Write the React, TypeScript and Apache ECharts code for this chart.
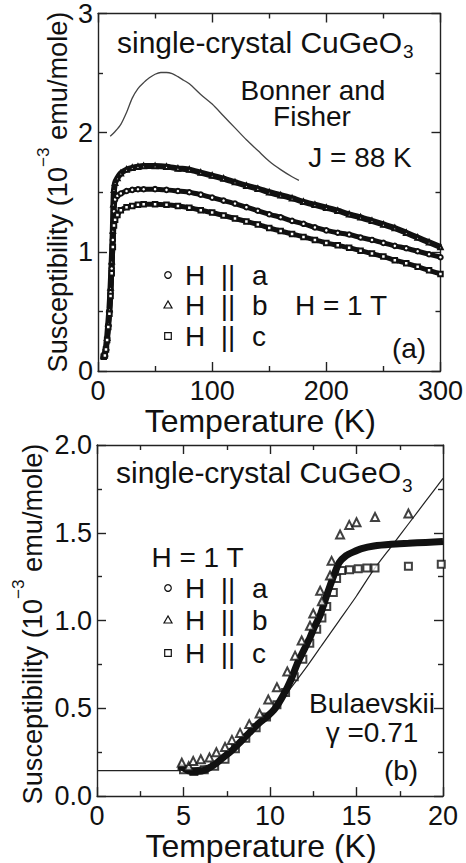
import React, { useEffect, useRef } from "react";
import * as echarts from "echarts";

const FONT = "'Liberation Sans', Arial, Helvetica, sans-serif";
const INK = "#111";

// ---------- Panel (a): 0-300 K ----------
const xTicksA = { min: 0, max: 300, interval: 100 };
const yTicksA = { min: 0, max: 3, interval: 1 };

// Bonner-Fisher curve, J = 88 K  [T (K), chi (1e-3 emu/mole)]
const bonnerFisher: [number, number][] = [
  [10.7, 1.97], [15, 2.01], [20, 2.07], [25, 2.17], [30, 2.29], [35, 2.37], [40, 2.42],
  [45, 2.46], [50, 2.49], [55, 2.505], [60, 2.505], [65, 2.495], [70, 2.47], [75, 2.44],
  [80, 2.41], [90, 2.32], [100, 2.24], [110, 2.14], [120, 2.04], [130, 1.94], [140, 1.85],
  [150, 1.76], [160, 1.69], [170, 1.63], [176, 1.6],
];

// H || a (circles)
const wideA: [number, number][] = [
  [5, 0.12], [6, 0.13], [7, 0.18], [8, 0.27], [9, 0.38], [10, 0.5], [11, 0.66], [12, 0.86],
  [13, 1.1], [14, 1.34], [15, 1.44], [17, 1.47], [20, 1.49], [25, 1.51], [30, 1.52],
  [35, 1.525], [40, 1.525], [50, 1.526], [60, 1.52], [70, 1.51], [80, 1.5], [90, 1.48],
  [100, 1.455], [110, 1.43], [120, 1.405], [130, 1.375], [140, 1.345], [150, 1.315],
  [160, 1.29], [170, 1.26], [180, 1.235], [190, 1.205], [200, 1.18], [210, 1.16],
  [220, 1.145], [230, 1.12], [240, 1.1], [250, 1.075], [260, 1.05], [270, 1.03],
  [280, 1.005], [290, 0.98], [300, 0.955],
];

// H || b (triangles)
const wideB: [number, number][] = [
  [5, 0.13], [6, 0.15], [7, 0.2], [8, 0.28], [9, 0.4], [10, 0.52], [11, 0.7], [12, 0.92],
  [13, 1.18], [13.5, 1.4], [14, 1.52], [15, 1.58], [17, 1.62], [20, 1.66], [25, 1.69],
  [30, 1.705], [35, 1.715], [40, 1.72], [50, 1.72], [60, 1.715], [70, 1.7], [80, 1.69],
  [90, 1.665], [100, 1.64], [110, 1.615], [120, 1.585], [130, 1.555], [140, 1.53],
  [150, 1.5], [160, 1.475], [170, 1.45], [180, 1.42], [190, 1.395], [200, 1.37],
  [210, 1.345], [220, 1.315], [230, 1.29], [240, 1.26], [250, 1.23], [260, 1.2],
  [270, 1.16], [280, 1.12], [290, 1.08], [300, 1.04],
];

// H || c (squares)
const wideC: [number, number][] = [
  [5, 0.12], [6, 0.13], [7, 0.18], [8, 0.26], [9, 0.37], [10, 0.48], [11, 0.63], [12, 0.82],
  [13, 1.04], [14, 1.22], [15, 1.27], [17, 1.31], [20, 1.35], [25, 1.375], [30, 1.385],
  [35, 1.395], [40, 1.4], [50, 1.4], [60, 1.395], [70, 1.385], [80, 1.37], [90, 1.35],
  [100, 1.33], [110, 1.305], [120, 1.28], [130, 1.255], [140, 1.23], [150, 1.2],
  [160, 1.175], [170, 1.15], [180, 1.125], [190, 1.1], [200, 1.075], [210, 1.055],
  [220, 1.035], [230, 1.01], [240, 0.985], [250, 0.96], [260, 0.93], [270, 0.905],
  [280, 0.875], [290, 0.845], [300, 0.815],
];

// ---------- Panel (b): 0-20 K ----------
const xTicksB = { min: 0, max: 20, interval: 5 };
const yTicksB = { min: 0, max: 2, interval: 0.5 };

// Bulaevskii fit, gamma = 0.71
const bulaevskii: [number, number][] = [
  [0, 0.145], [4.5, 0.145], [5, 0.148], [5.5, 0.155], [6, 0.165], [6.5, 0.18], [7, 0.2],
  [7.5, 0.23], [8, 0.265], [8.5, 0.31], [9, 0.36], [9.5, 0.41], [10, 0.47], [11, 0.59],
  [12, 0.72], [13, 0.86], [14, 1.0], [15, 1.14], [16, 1.29], [17, 1.42], [18, 1.55],
  [19, 1.68], [20, 1.81],
];

// H || a (dense circles)
const lowA: [number, number][] = [
  [4.7, 0.17], [5.0, 0.16], [5.4, 0.14], [5.8, 0.14], [6.3, 0.15], [6.8, 0.18], [7.3, 0.22],
  [7.8, 0.26], [8.3, 0.31], [8.8, 0.36], [9.3, 0.41], [9.8, 0.45], [10.3, 0.5], [10.8, 0.58],
  [11.2, 0.66], [11.6, 0.76], [12.0, 0.84], [12.3, 0.9], [12.6, 0.97], [12.9, 1.03],
  [13.3, 1.15], [13.7, 1.26], [14.0, 1.33], [14.4, 1.37], [14.8, 1.39], [15.3, 1.41],
  [16.0, 1.425], [17.0, 1.435], [18.0, 1.44], [19.0, 1.445], [20.0, 1.45],
];

// H || b (triangles)
const lowB: [number, number][] = [
  [4.9, 0.19], [5.3, 0.17], [5.56, 0.2], [6.0, 0.21], [6.5, 0.22], [6.9, 0.25], [7.4, 0.28],
  [7.8, 0.32], [8.27, 0.36], [8.8, 0.41], [9.4, 0.47], [9.9, 0.55], [10.4, 0.62],
  [11.0, 0.71], [11.45, 0.8], [11.83, 0.886], [12.31, 0.97], [12.5, 1.04], [12.9, 1.17],
  [13.0, 1.11], [13.47, 1.257], [13.56, 1.34], [14.05, 1.49], [14.58, 1.545], [15.0, 1.56],
  [16.07, 1.59], [18.0, 1.61],
];

// H || c (squares)
const lowC: [number, number][] = [
  [5.0, 0.15], [5.6, 0.14], [6.2, 0.15], [6.8, 0.17], [7.4, 0.21], [8.0, 0.27], [8.6, 0.33],
  [9.2, 0.39], [9.8, 0.45], [10.4, 0.52], [10.9, 0.59], [11.4, 0.68], [11.9, 0.78],
  [12.3, 0.87], [12.7, 0.95], [13.0, 1.015], [13.28, 1.08], [13.66, 1.16], [13.85, 1.24],
  [14.14, 1.285], [14.6, 1.29], [15.1, 1.295], [15.6, 1.3], [16.07, 1.3], [18.0, 1.31],
  [19.9, 1.32],
];

const legendRows = [
  { key: "a", symbol: "circle" },
  { key: "b", symbol: "triangle" },
  { key: "c", symbol: "square" },
];

const yTitleMain = "Susceptibility (10";
const yTitleSup = "−3";
const yTitleEnd = " emu/mole)";
const sampleName = "single-crystal CuGeO";
const sampleSub = "3";

const axisLineStyle = { color: "#222", width: 1.4 };

let measureCtx: CanvasRenderingContext2D | null = null;
function measure(text: string, size: number) {
  if (!measureCtx) measureCtx = document.createElement("canvas").getContext("2d");
  if (!measureCtx) return text.length * size * 0.55;
  measureCtx.font = `${size}px ${FONT}`;
  return measureCtx.measureText(text).width;
}

function xAxisCfg(gridIndex: number, t: { min: number; max: number; interval: number }, main: boolean, nameGap: number) {
  return {
    type: "value",
    gridIndex,
    position: main ? "bottom" : "top",
    ...t,
    name: main ? "Temperature (K)" : "",
    nameLocation: "middle",
    nameGap,
    nameTextStyle: { fontSize: 32, fontFamily: FONT, color: INK, padding: [0, 18, 0, 0] },
    axisLine: { show: true, onZero: false, lineStyle: axisLineStyle },
    axisTick: { show: true, inside: true, length: 9, lineStyle: axisLineStyle },
    minorTick: { show: true, splitNumber: 2, length: 5, lineStyle: axisLineStyle },
    splitLine: { show: false },
    minorSplitLine: { show: false },
    axisLabel: { show: main, fontSize: 27, fontFamily: FONT, color: INK, margin: 6 },
  };
}

function yAxisCfg(gridIndex: number, t: { min: number; max: number; interval: number }, main: boolean, digits: number) {
  return {
    type: "value",
    gridIndex,
    position: main ? "left" : "right",
    ...t,
    axisLine: { show: true, onZero: false, lineStyle: axisLineStyle },
    axisTick: { show: true, inside: true, length: 9, lineStyle: axisLineStyle },
    minorTick: { show: true, splitNumber: 2, length: 5, lineStyle: axisLineStyle },
    splitLine: { show: false },
    minorSplitLine: { show: false },
    axisLabel: {
      show: main,
      fontSize: 27,
      fontFamily: FONT,
      color: INK,
      margin: 5,
      formatter: (v: number) => v.toFixed(digits),
    },
  };
}

function txt(text: string, x: number, y: number, size = 28, align = "center") {
  return {
    type: "text",
    x,
    y,
    style: { text, fill: INK, fontSize: size, fontFamily: FONT, align, verticalAlign: "middle" },
  };
}

// Rotated y-axis title with a superscript exponent
function yTitle(cx: number, cy: number, targetLength: number) {
  const base = 27;
  const len0 = measure(yTitleMain, base) + measure(yTitleSup, base * 0.63) + measure(yTitleEnd, base);
  const size = Math.max(24, Math.min(31, (base * targetLength) / len0));
  const sup = size * 0.63;
  const w1 = measure(yTitleMain, size);
  const ws = measure(yTitleSup, sup);
  const w2 = measure(yTitleEnd, size);
  const x0 = -(w1 + ws + w2) / 2;
  return {
    type: "group",
    x: cx,
    y: cy,
    rotation: Math.PI / 2,
    children: [
      txt(yTitleMain, x0, 0, size, "left"),
      txt(yTitleSup, x0 + w1, -size * 0.5, sup, "left"),
      txt(yTitleEnd, x0 + w1 + ws, 0, size, "left"),
    ],
  };
}

function sampleTitle(left: number, y: number, subDy: number) {
  const size = 30;
  const w = measure(sampleName, size);
  return [txt(sampleName, left, y, size, "left"), txt(sampleSub, left + w + 1, y + subDy, 19, "left")];
}

function marker(kind: string, cx: number, cy: number) {
  const style = { fill: "#fff", stroke: INK, lineWidth: 1.2 };
  if (kind === "circle") return { type: "circle", shape: { cx, cy, r: 3.3 }, style };
  if (kind === "triangle")
    return { type: "polygon", shape: { points: [[cx, cy - 4], [cx - 4, cy + 3], [cx + 4, cy + 3]] }, style };
  return { type: "rect", shape: { x: cx - 3.3, y: cy - 3.3, width: 6.6, height: 6.6 }, style };
}

function legend(rowsY: number[]) {
  const out: any[] = [];
  legendRows.forEach((r, i) => {
    const y = rowsY[i];
    out.push(marker(r.symbol, 168, y));
    out.push(txt("H", 185, y, 28, "left"));
    out.push(txt("||", 228, y, 28, "center"));
    out.push(txt(r.key, 252, y, 28, "left"));
  });
  return out;
}

function buildOption() {
  const bandLine = (data: [number, number][], symbol: string, xi: number, yi: number, width: number, symbolSize: number) => ({
    type: "line",
    xAxisIndex: xi,
    yAxisIndex: yi,
    data,
    symbol,
    symbolSize,
    showSymbol: symbolSize > 0,
    lineStyle: { color: INK, width },
    itemStyle: { color: INK, borderColor: INK, borderWidth: 1.5 },
    smooth: 0.2,
    z: 3,
  });

  return {
    animation: false,
    backgroundColor: "#fff",
    grid: [
      { left: 98, top: 12, width: 345, height: 359 },
      { left: 97, top: 445, width: 346, height: 359 },
    ],
    xAxis: [
      xAxisCfg(0, xTicksA, true, 19),
      xAxisCfg(0, xTicksA, false, 0),
      xAxisCfg(1, xTicksB, true, 12),
      xAxisCfg(1, xTicksB, false, 0),
    ],
    yAxis: [
      yAxisCfg(0, yTicksA, true, 0),
      yAxisCfg(0, yTicksA, false, 0),
      yAxisCfg(1, yTicksB, true, 1),
      yAxisCfg(1, yTicksB, false, 1),
    ],
    series: [
      {
        type: "line",
        name: "Bonner and Fisher",
        xAxisIndex: 0,
        yAxisIndex: 0,
        data: bonnerFisher,
        showSymbol: false,
        smooth: 0.3,
        lineStyle: { color: "#444", width: 1.3 },
        z: 2,
      },
      { name: "H || a", ...bandLine(wideA, "emptyCircle", 0, 0, 5, 4.5) },
      { name: "H || b", ...bandLine(wideB, "emptyTriangle", 0, 0, 6, 4.5) },
      { name: "H || c", ...bandLine(wideC, "emptyRect", 0, 0, 5, 4.5) },
      {
        type: "line",
        name: "Bulaevskii",
        xAxisIndex: 2,
        yAxisIndex: 2,
        data: bulaevskii,
        showSymbol: false,
        smooth: 0.3,
        lineStyle: { color: "#222", width: 1.2 },
        z: 2,
      },
      {
        type: "scatter",
        name: "H || c (b)",
        xAxisIndex: 2,
        yAxisIndex: 2,
        data: lowC,
        symbol: "emptyRect",
        symbolSize: 7,
        itemStyle: { color: INK, borderColor: INK, borderWidth: 1 },
        z: 3,
      },
      { name: "H || a (b)", ...bandLine(lowA, "none", 2, 2, 7, 0), z: 4 },
      {
        type: "scatter",
        name: "H || b (b)",
        xAxisIndex: 2,
        yAxisIndex: 2,
        data: lowB,
        symbol: "emptyTriangle",
        symbolSize: 8,
        itemStyle: { color: INK, borderColor: INK, borderWidth: 1 },
        z: 5,
      },
    ],
    graphic: [
      // panel (a)
      yTitle(57, 192, 361),
      ...sampleTitle(117, 42, 9),
      txt("Bonner and", 313, 90),
      txt("Fisher", 312, 116),
      txt("J = 88 K", 360, 157),
      ...legend([275, 305, 336]),
      txt("H = 1 T", 341, 305),
      txt("(a)", 409, 348),
      // panel (b)
      yTitle(32, 624, 361),
      ...sampleTitle(116, 472, 13),
      txt("H = 1 T", 197.5, 557),
      ...legend([588, 620, 653]),
      txt("Bulaevskii", 372, 703),
      txt("γ =0.71", 372, 732),
      txt("(b)", 401, 770),
    ],
  };
}

export default function App() {
  const ref = useRef<HTMLDivElement>(null);
  useEffect(() => {
    if (!ref.current) return;
    const chart = echarts.init(ref.current, undefined, { renderer: "svg" });
    chart.setOption(buildOption() as any);
    return () => chart.dispose();
  }, []);
  return (
    <div
      ref={ref}
      style={{ position: "fixed", left: 0, top: 0, width: 466, height: 863, background: "#fff" }}
    />
  );
}
